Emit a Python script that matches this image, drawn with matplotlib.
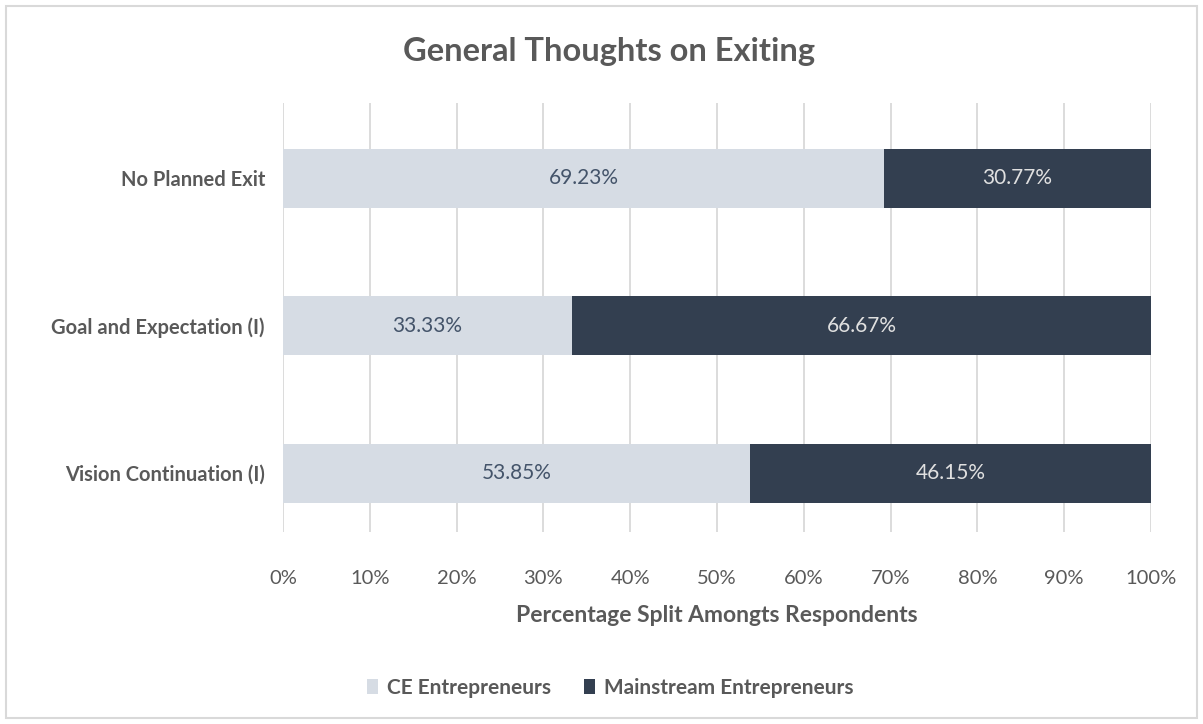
import matplotlib.pyplot as plt
from matplotlib.patches import Rectangle

categories = ['Vision Continuation (I)', 'Goal and Expectation (I)', 'No Planned Exit']
ce_share = [53.85, 33.33, 69.23]
mainstream_share = [46.15, 66.67, 30.77]
series_names = ['CE Entrepreneurs', 'Mainstream Entrepreneurs']
tick_values = list(range(0, 101, 10))

light = '#D6DCE4'
dark = '#333F50'
grey = '#595959'

plt.rcParams['font.family'] = ['Lato', 'DejaVu Sans']

fig = plt.figure(figsize=(12.03, 7.24), dpi=100)
ax = fig.add_axes([283 / 1203, 1 - 532 / 724, (1151 - 283) / 1203, (532 - 103) / 724])

ypos = list(range(len(categories)))
bars_ce = ax.barh(ypos, ce_share, height=0.4, color=light, label=series_names[0], zorder=3)
bars_ms = ax.barh(ypos, mainstream_share, left=ce_share, height=0.4, color=dark,
                  label=series_names[1], zorder=3)

for bar, v in zip(bars_ce, ce_share):
    ax.text(bar.get_x() + bar.get_width() / 2, bar.get_y() + bar.get_height() / 2,
            f'{v:.2f}%', ha='center', va='center', color='#44546A', fontsize=15, zorder=4)
for bar, v in zip(bars_ms, mainstream_share):
    ax.text(bar.get_x() + bar.get_width() / 2, bar.get_y() + bar.get_height() / 2,
            f'{v:.2f}%', ha='center', va='center', color='#E0E0E0', fontsize=15, zorder=4)

ax.set_xlim(0, 100)
ax.set_ylim(-0.4, 2.51)
ax.set_xticks(tick_values)
ax.set_xticklabels([f'{t}%' for t in tick_values], color=grey, fontsize=14.5)
ax.set_yticks(ypos)
ax.set_yticklabels(categories, color=grey, fontsize=14.5, fontweight='bold')
ax.tick_params(axis='x', length=0, pad=27)
ax.tick_params(axis='y', length=0, pad=13)
ax.grid(axis='x', color='#D9D9D9', linewidth=1.3, zorder=0)
for s in ax.spines.values():
    s.set_visible(False)

ax.set_xlabel('Percentage Split Amongts Respondents', color=grey, fontsize=16.5,
              fontweight='bold', labelpad=13)
fig.text(0.5062, 1 - 52 / 724, 'General Thoughts on Exiting', ha='center', va='center',
         color=grey, fontsize=23.5, fontweight='bold')

fig.legend(handles=[bars_ce, bars_ms], labels=series_names, loc='center',
           bbox_to_anchor=(0.507, 1 - 688 / 724), ncol=2, frameon=False,
           handlelength=0.55, handleheight=0.7, columnspacing=1.6,
           handletextpad=0.4, labelcolor=grey,
           prop={'weight': 'bold', 'size': 15})

# outer chart frame
fig.add_artist(Rectangle((6 / 1203, 6 / 724), 1 - 12 / 1203, 1 - 12 / 724,
                         transform=fig.transFigure, fill=False,
                         edgecolor='#D9D9D9', linewidth=1.5))

fig.savefig('out.png', dpi=100)
